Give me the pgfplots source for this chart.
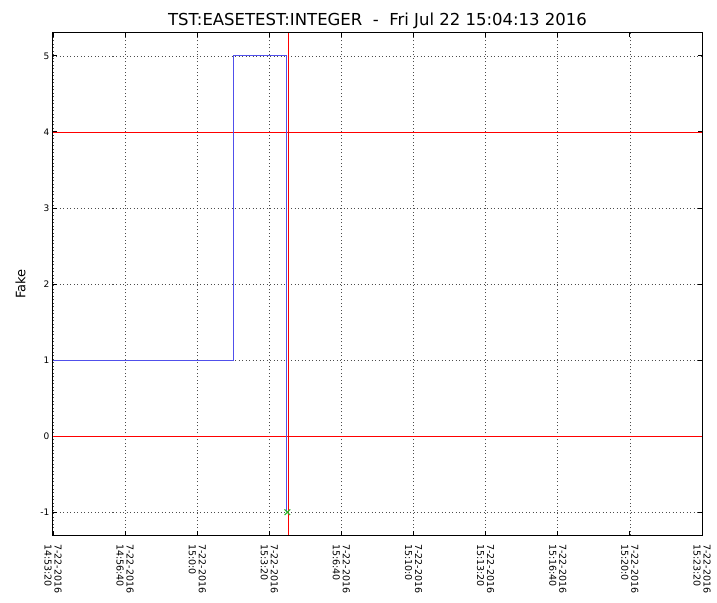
\documentclass[border=0pt]{standalone}
\usepackage{fontspec}
\setmainfont{DejaVu Sans}
\usepackage{pgfplots}
\pgfplotsset{compat=1.18}
\definecolor{mblue}{RGB}{80,80,235}
\definecolor{mgreen}{RGB}{40,180,40}
\begin{document}
\begin{tikzpicture}
\useasboundingbox (-53pt,-67pt) rectangle (664pt,535pt);
\begin{axis}[
  at={(0,0)}, anchor=south west,
  scale only axis, width=649pt, height=502pt,
  xmin=0, xmax=1800, ymin=-1.3, ymax=5.3,
  xtick={0,200,...,1800},
  xticklabels={{7-22-2016\\14:53:20},{7-22-2016\\14:56:40},{7-22-2016\\15:0:0},{7-22-2016\\15:3:20},{7-22-2016\\15:6:40},{7-22-2016\\15:10:0},{7-22-2016\\15:13:20},{7-22-2016\\15:16:40},{7-22-2016\\15:20:0},{7-22-2016\\15:23:20}},
  ytick={-1,0,1,2,3,4,5},
  xticklabel style={rotate=-90, anchor=west, align=left, font=\fontsize{9.5}{10}\selectfont, inner sep=0pt, xshift=9pt},
  yticklabel style={font=\fontsize{9}{10}\selectfont},
  /pgf/number format/assume math mode=true,
  tick align=inside, major tick length=4pt,
  tick style={black, line width=0.8pt},
  axis line style={black, line width=1pt},
  grid=major, major grid style={black!70, dash pattern=on 1pt off 2.5pt, line width=0.6pt},
  ylabel={Fake}, ylabel style={font=\fontsize{13}{14}\selectfont}, ylabel shift=8pt,
  title={TST:EASETEST:INTEGER\ \ -\ \ Fri Jul 22 15:04:13 2016},
  title style={font=\fontsize{16.5}{18}\selectfont, yshift=-5pt},
]
\addplot[red, line width=0.7pt] coordinates {(0,4) (1800,4)};
\addplot[red, line width=0.7pt] coordinates {(0,0) (1800,0)};
\addplot[mblue, line width=1pt] coordinates {(0,1) (500,1) (500,5) (648,5) (648,-1)};
\addplot[red, line width=0.7pt] coordinates {(653,-1.3) (653,5.3)};
\addplot[mgreen, line width=1pt, only marks, mark=x, mark size=4pt] coordinates {(650,-1)};
\end{axis}
\end{tikzpicture}
\end{document}
